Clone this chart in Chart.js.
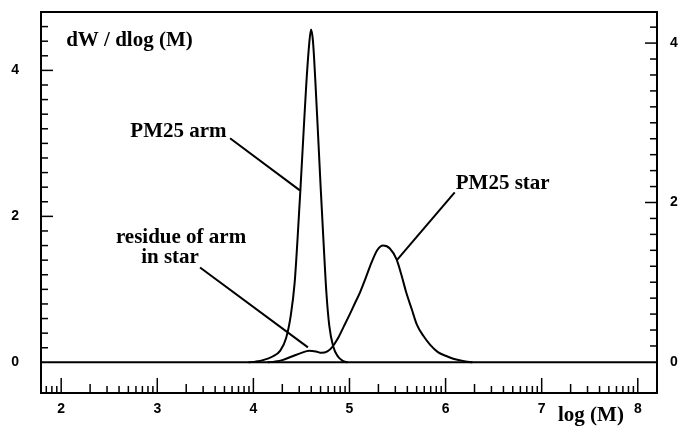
<!DOCTYPE html>
<html>
<head>
<meta charset="utf-8">
<script src="https://cdn.jsdelivr.net/npm/chart.js@4.4.1/dist/chart.umd.min.js"></script>
<style>
  html, body { margin: 0; padding: 0; background: #fff; }
  #wrap { width: 679px; height: 426px; }
</style>
</head>
<body>
<div id="wrap"><canvas id="gpc"></canvas></div>
<script>
// tick labels
const xLabels = [2, 3, 4, 5, 6, 7, 8];
const yLabels = [0, 2, 4];

// PM25 arm
const armLogM = [3.95, 4.02, 4.10, 4.20, 4.28, 4.34, 4.39, 4.43, 4.46, 4.49, 4.52, 4.55, 4.58, 4.60,
                 4.62, 4.645, 4.67, 4.70, 4.73, 4.76, 4.79, 4.83, 4.88, 4.93, 4.98];
const armValues = [0, 0.01, 0.03, 0.08, 0.16, 0.33, 0.65, 1.10, 1.70, 2.38, 3.10, 3.80, 4.35, 4.56,
                   4.40, 3.85, 3.20, 2.40, 1.65, 0.95, 0.50, 0.22, 0.08, 0.02, 0];

// PM25 star (with the residue of arm shoulder)
const starLogM = [4.15, 4.22, 4.30, 4.40, 4.50, 4.58, 4.65, 4.71, 4.77, 4.82, 4.88, 4.94, 5.00, 5.06,
                  5.11, 5.17, 5.23, 5.29, 5.35, 5.42, 5.49, 5.54, 5.59, 5.65, 5.70, 5.77, 5.84, 5.92,
                  6.00, 6.08, 6.18, 6.28];
const starValues = [0, 0.01, 0.03, 0.08, 0.13, 0.16, 0.15, 0.13, 0.15, 0.21, 0.33, 0.49, 0.65, 0.82,
                    0.96, 1.16, 1.37, 1.54, 1.60, 1.56, 1.41, 1.20, 0.96, 0.72, 0.52, 0.36, 0.24, 0.14,
                    0.09, 0.05, 0.02, 0];

const toPoints = (xs, ys) => xs.map((v, i) => ({ x: v, y: ys[i] }));

const serif = 'bold 21px "Liberation Serif", "Times New Roman", serif';

// frame, inward ticks, baseline, labels and pointer lines
const decorPlugin = {
  id: 'decor',
  afterDraw(chart) {
    const { ctx, chartArea: a, scales } = chart;
    const x = scales.x, y = scales.y, y2 = scales.y2;
    const px = v => x.getPixelForValue(v);
    const py = v => y.getPixelForValue(v);
    const seg = (x1, y1, x2, y2_) => {
      ctx.beginPath(); ctx.moveTo(x1, y1); ctx.lineTo(x2, y2_); ctx.stroke();
    };
    ctx.save();
    ctx.strokeStyle = '#000';
    ctx.fillStyle = '#000';
    ctx.lineWidth = 2;
    ctx.strokeRect(a.left, a.top, a.right - a.left, a.bottom - a.top);

    // baseline at 0
    seg(a.left, py(0), a.right, py(0));

    // log ticks on the bottom, pointing up
    ctx.lineWidth = 1.5;
    for (let n = 1; n <= 8; n++) {
      for (let k = 1; k <= 9; k++) {
        const v = n + Math.log10(k);
        if (v <= x.min || v >= x.max) continue;
        const len = k === 1 ? 15 : (k === 2 ? 9 : 7);
        seg(px(v), a.bottom, px(v), a.bottom - len);
      }
    }
    // left ticks
    for (let i = 1; i <= 24; i++) {
      const v = i * 0.2;
      if (v > y.max) break;
      const len = i % 10 === 0 ? 12 : 7;
      seg(a.left, py(v), a.left + len, py(v));
    }
    // right ticks
    for (let i = 1; i <= 22; i++) {
      const v = i * 0.2;
      if (v > y2.max) break;
      const p = y2.getPixelForValue(v);
      const len = i % 10 === 0 ? 12 : 7;
      seg(a.right, p, a.right - len, p);
    }

    // pointer lines
    ctx.lineWidth = 2;
    seg(px(3.757), py(3.07), px(4.484), py(2.356));
    seg(px(3.445), py(1.30), px(4.568), py(0.205));
    seg(px(6.095), py(2.33), px(5.493), py(1.40));

    // texts
    ctx.font = serif;
    ctx.textBaseline = 'alphabetic';
    ctx.textAlign = 'left';
    ctx.fillText('dW / dlog (M)', px(2.052), py(4.34));
    ctx.fillText('PM25 arm', px(2.72), py(3.09));
    ctx.fillText('PM25 star', px(6.106), py(2.37));
    ctx.textAlign = 'center';
    ctx.fillText('residue of arm', px(3.247), py(1.63));
    ctx.fillText('in star', px(3.133), py(1.356));
    ctx.textAlign = 'left';
    ctx.fillText('log (M)', px(7.17), a.bottom + 28);
    ctx.restore();
  }
};

const tickFont = { family: '"Liberation Sans", Arial, sans-serif', size: 14, weight: 'bold' };

// no extra room for the tick labels around the plot frame
const noPad = s => { s.paddingTop = 0; s.paddingBottom = 0; s.paddingLeft = 0; s.paddingRight = 0; };

new Chart(document.getElementById('gpc').getContext('2d'), {
  type: 'line',
  data: {
    datasets: [
      {
        label: 'PM25 arm',
        data: toPoints(armLogM, armValues),
        borderColor: '#000',
        borderWidth: 2,
        pointRadius: 0,
        cubicInterpolationMode: 'monotone',
        fill: false
      },
      {
        label: 'PM25 star',
        data: toPoints(starLogM, starValues),
        borderColor: '#000',
        borderWidth: 2,
        pointRadius: 0,
        cubicInterpolationMode: 'monotone',
        fill: false
      }
    ]
  },
  options: {
    responsive: true,
    maintainAspectRatio: false,
    animation: false,
    layout: { padding: { top: 12, left: 0, right: 0, bottom: 0 } },
    plugins: {
      legend: { display: false },
      tooltip: { enabled: false }
    },
    scales: {
      x: {
        type: 'linear',
        min: 1.79,
        max: 8.2,
        grid: { display: false, drawTicks: false },
        border: { display: false },
        afterBuildTicks: s => { s.ticks = xLabels.map(v => ({ value: v })); },
        afterFit: s => { s.height = 33; noPad(s); },
        ticks: {
          autoSkip: false,
          maxRotation: 0,
          padding: 8,
          color: '#000',
          font: tickFont,
          callback: v => String(v)
        }
      },
      y: {
        type: 'linear',
        position: 'left',
        min: -0.42,
        max: 4.8,
        grid: { display: false, drawTicks: false },
        border: { display: false },
        afterBuildTicks: s => { s.ticks = yLabels.map(v => ({ value: v })); },
        afterFit: s => { s.width = 41; noPad(s); },
        ticks: { padding: 22, color: '#000', font: tickFont, callback: v => String(v) }
      },
      y2: {
        type: 'linear',
        position: 'right',
        min: -0.39,
        max: 4.39,
        grid: { display: false, drawTicks: false },
        border: { display: false },
        afterBuildTicks: s => { s.ticks = yLabels.map(v => ({ value: v })); },
        afterFit: s => { s.width = 22; noPad(s); },
        ticks: { padding: 13, color: '#000', font: tickFont, callback: v => String(v) }
      }
    }
  },
  plugins: [decorPlugin]
});
</script>
</body>
</html>
